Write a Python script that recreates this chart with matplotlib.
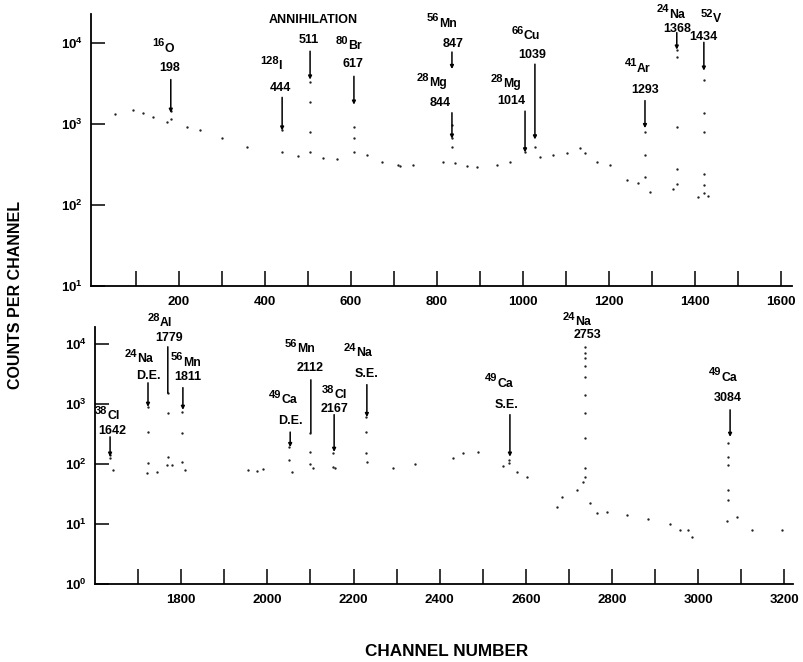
import math
import matplotlib.pyplot as plt
from matplotlib.ticker import FixedLocator, FuncFormatter, NullLocator

plt.rcParams['font.family'] = ['Liberation Sans', 'DejaVu Sans']
plt.rcParams['font.weight'] = 'bold'
plt.rcParams['mathtext.default'] = 'regular'

# spectrum dots, channels 0-1600 (channel, counts)
low_channel = [51, 93, 116, 140, 172, 181, 181, 218, 249, 300, 358, 440, 440, 477,
               505, 505, 505, 505, 535, 567, 607, 607, 607, 637, 672, 709, 714, 744,
               814, 835, 835, 835, 842, 870, 893, 940, 970, 1005, 1005, 1028, 1028,
               1040, 1070, 1102, 1133, 1145, 1172, 1202, 1242, 1267, 1284, 1284, 1284,
               1295, 1349, 1358, 1358, 1358, 1358, 1358, 1407, 1421, 1421, 1421, 1421,
               1421, 1421, 1430]
low_counts = [1320, 1480, 1380, 1230, 1050, 1440, 1150, 910, 850, 680, 525, 850, 455, 400,
              3300, 1900, 810, 450, 380, 375, 910, 680, 450, 415, 340, 310, 300, 310,
              340, 980, 680, 520, 330, 300, 295, 310, 340, 510, 450, 740, 520,
              390, 410, 440, 500, 440, 340, 310, 205, 185, 810, 415, 225,
              145, 160, 8300, 6700, 930, 275, 180, 125, 3550, 1380, 790, 240,
              178, 141, 130]

# spectrum dots, channels 1600-3200
high_channel = [1635, 1635, 1642, 1720, 1723, 1723, 1723, 1744, 1767, 1769, 1769, 1769,
                1778, 1801, 1803, 1803, 1808, 1955, 1976, 1990, 2051, 2051, 2057, 2099,
                2099, 2099, 2106, 2153, 2153, 2157, 2228, 2228, 2228, 2231, 2292, 2343,
                2431, 2454, 2489, 2547, 2560, 2560, 2580, 2603, 2672, 2684, 2719, 2733,
                2737, 2737, 2737, 2737, 2737, 2737, 2737, 2737, 2737, 2737, 2749, 2765,
                2788, 2835, 2884, 2935, 2958, 2977, 2986, 3067, 3068, 3068, 3068, 3068,
                3068, 3090, 3125, 3195]
high_counts = [140, 126, 80, 71, 890, 340, 105, 73, 96, 1500, 710, 130,
               96, 108, 740, 330, 80, 80, 76, 82, 190, 117, 73, 330,
               160, 100, 85, 150, 90, 85, 600, 340, 150, 108, 85, 100,
               126, 150, 160, 92, 117, 104, 73, 60, 19, 28, 37, 50,
               8900, 7100, 5900, 4200, 2800, 1400, 710, 270, 85, 60, 22, 15,
               16, 14, 12, 10, 8, 8, 6, 11, 225, 130, 96, 37,
               25, 13, 8, 8]

# peak labels; (mass, element) pairs are isotopes
low_text = [('16', 'O'), '198', 'ANNIHILATION', '511', ('80', 'Br'), '617',
            ('128', 'I'), '444', ('56', 'Mn'), '847', ('28', 'Mg'), '844',
            ('28', 'Mg'), '1014', ('66', 'Cu'), '1039', ('41', 'Ar'), '1293',
            ('24', 'Na'), '1368', ('52', 'V'), '1434']
high_text = [('38', 'Cl'), '1642', ('24', 'Na'), 'D.E.', ('28', 'Al'), '1779',
             ('56', 'Mn'), '1811', ('49', 'Ca'), 'D.E.', ('56', 'Mn'), '2112',
             ('38', 'Cl'), '2167', ('24', 'Na'), 'S.E.', ('49', 'Ca'), 'S.E.',
             ('24', 'Na'), '2753', ('49', 'Ca'), '3084']

# where the labels sit: (channel, log10 counts)
low_text_pos = [(163, 3.96), (179, 3.69), (512, 4.28), (502, 4.04), (595, 3.99), (605, 3.74),
                (414, 3.74), (437, 3.45), (812, 4.27), (837, 3.99), (788, 3.53), (807, 3.26),
                (960, 3.52), (974, 3.28), (1007, 4.11), (1021, 3.85), (1267, 3.71), (1284, 3.42),
                (1344, 4.38), (1358, 4.18), (1437, 4.32), (1419, 4.07)]
high_text_pos = [(1628, 2.83), (1639, 2.55), (1702, 3.78), (1725, 3.47), (1751, 4.38), (1772, 4.10),
                 (1811, 3.72), (1816, 3.45), (2036, 3.10), (2053, 2.72), (2076, 3.95), (2099, 3.60),
                 (2155, 3.18), (2157, 2.92), (2210, 3.88), (2231, 3.50), (2538, 3.37), (2556, 2.98),
                 (2719, 4.40), (2742, 4.15), (3058, 3.47), (3069, 3.10)]

# arrows: channel, log10 from, log10 to, arrow head
low_arrows = [(181, 3.55, 3.14, True), (440, 3.33, 2.92, True), (505, 3.90, 3.55, True),
              (607, 3.59, 3.24, True), (835, 3.89, 3.68, True), (835, 3.14, 2.82, True),
              (1005, 3.16, 2.65, True), (1028, 3.74, 2.81, True), (1284, 3.29, 2.95, True),
              (1358, 4.13, 3.92, True), (1421, 4.01, 3.66, True)]
high_arrows = [(1635, 2.45, 2.12, True), (1723, 3.35, 2.95, True), (1769, 3.95, 3.18, False),
               (1804, 3.27, 2.90, True), (2053, 2.53, 2.28, True), (2101, 3.40, 2.52, False),
               (2155, 2.82, 2.20, True), (2231, 3.32, 2.78, True), (2563, 2.82, 2.12, True),
               (3074, 2.90, 2.45, True)]

W, H = 804, 662
fig = plt.figure(figsize=(W / 100, H / 100), dpi=100)
ax1 = fig.add_axes([91 / W, 1 - 286 / H, 701 / W, 272 / H])
ax2 = fig.add_axes([95 / W, 1 - 584 / H, 698 / W, 257 / H])
renderer = fig.canvas.get_renderer()


def style(ax, xlim, ylim, xticks, decades):
    ax.set_yscale('log')
    ax.set_xlim(*xlim)
    ax.set_ylim(*ylim)
    for s in ['top', 'right']:
        ax.spines[s].set_visible(False)
    for s in ['left', 'bottom']:
        ax.spines[s].set_linewidth(1.3)
    ax.xaxis.set_major_locator(FixedLocator(xticks))
    ax.xaxis.set_major_formatter(FuncFormatter(lambda v, p: '%d' % v if v % 200 == 0 else ''))
    ax.yaxis.set_major_locator(FixedLocator([10.0 ** d for d in decades]))
    ax.yaxis.set_major_formatter(FuncFormatter(lambda v, p: r'$10^{%d}$' % round(math.log10(v))))
    ax.yaxis.set_minor_locator(NullLocator())
    ax.tick_params(axis='x', direction='in', length=10.5, width=1.1, pad=7, labelsize=9.5)
    ax.tick_params(axis='y', direction='in', length=10, width=1.1, pad=6, labelsize=9.5)


def isotope(ax, mass, sym, x, y):
    # mass number high on the left, element symbol lower on the right
    a = ax.annotate(mass, (x, y), xytext=(0, 2.3), textcoords='offset points',
                    ha='right', va='center', fontsize=8, annotation_clip=False)
    b = ax.annotate(sym, (x, y), xytext=(0, -1.6), textcoords='offset points',
                    ha='left', va='center', fontsize=8.8, annotation_clip=False)
    wa = a.get_window_extent(renderer).width
    wb = b.get_window_extent(renderer).width
    shift = (wa - wb) / 2 * 72 / fig.dpi
    a.xyann = (shift, 2.3)
    b.xyann = (shift, -1.6)


style(ax1, (-4.6, 1626), (10, 10 ** 4.36), range(100, 1601, 100), [1, 2, 3, 4])
style(ax2, (1600, 3220), (1, 10 ** 4.28), range(1700, 3201, 100), [0, 1, 2, 3, 4])

ax1.plot(low_channel, low_counts, ls='none', marker='o', ms=1.7, mec='none', color='#222222')
ax2.plot(high_channel, high_counts, ls='none', marker='o', ms=1.7, mec='none', color='#222222')

for ax, texts, pos, arrows in [(ax1, low_text, low_text_pos, low_arrows),
                               (ax2, high_text, high_text_pos, high_arrows)]:
    for t, (x, ly) in zip(texts, pos):
        if isinstance(t, tuple):
            isotope(ax, t[0], t[1], x, 10 ** ly)
        else:
            ax.text(x, 10 ** ly, t, ha='center', va='center', fontsize=9, clip_on=False)
    for x, y0, y1, head in arrows:
        ax.annotate('', xy=(x, 10 ** y1), xytext=(x, 10 ** y0),
                    arrowprops=dict(arrowstyle='-|>' if head else '-', lw=1.1, color='k',
                                    mutation_scale=5, shrinkA=0, shrinkB=0))

fig.text(16 / W, 1 - 295 / H, 'COUNTS PER CHANNEL', rotation=90, ha='center', va='center',
         fontsize=11.5)
fig.text(447 / W, 1 - 651 / H, 'CHANNEL NUMBER', ha='center', va='center', fontsize=12.3)

fig.savefig('out.png', dpi=100)
